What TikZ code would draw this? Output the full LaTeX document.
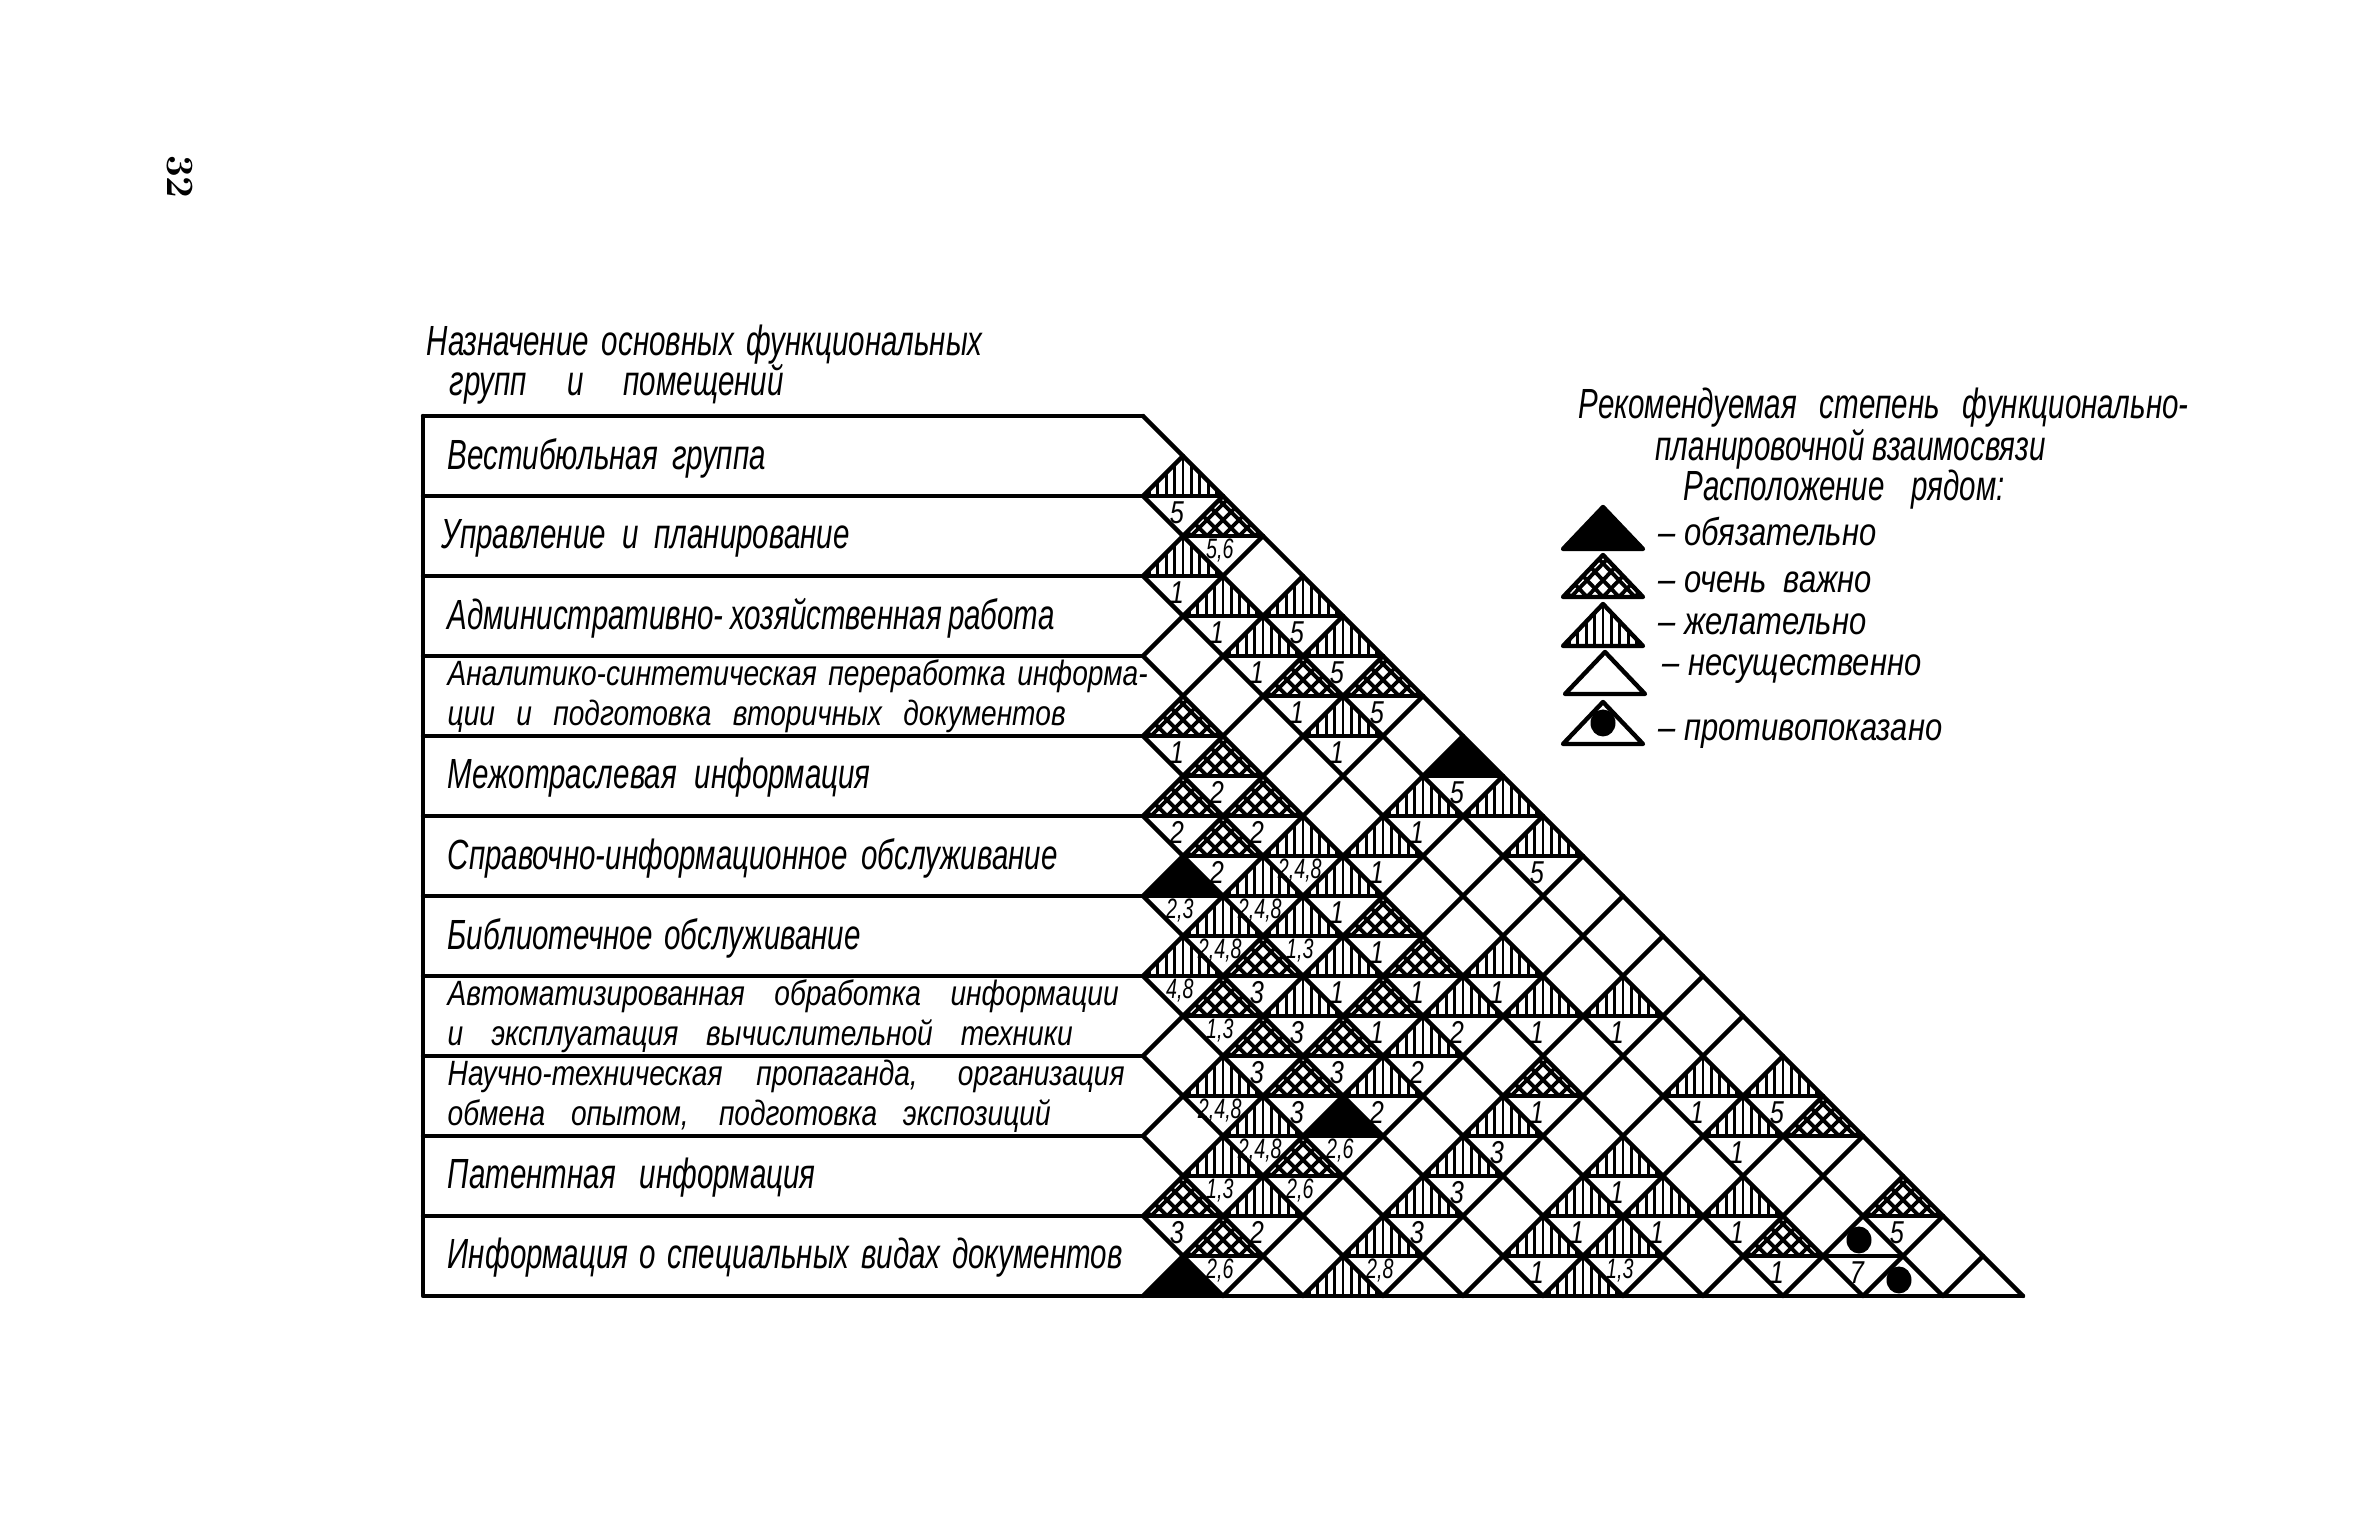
\documentclass[tikz,border=0pt]{standalone}
\usepackage{fontspec}
\newfontfamily\dfont{Liberation Sans}[FakeStretch=0.7]
\newfontfamily\dfontb{Liberation Sans}[FakeStretch=0.8]
\newcommand\trV{%
  \begin{scope}
    \clip (0,0)--(-1,1)--(1,1)--cycle;
    \foreach \i in {-4,...,4} \draw[hv] (\i*0.21,-0.1)--(\i*0.21,1.1);
  \end{scope}}
\newcommand\trX{%
  \begin{scope}
    \clip (0,0)--(-1,1)--(1,1)--cycle;
    \foreach \j in {-4,...,4} {\draw[hx] (\j*0.4-1.5,-0.5)--++(2,2); \draw[hx] (\j*0.4+1.5,-0.5)--++(-2,2);}
  \end{scope}}
\newcommand\trB{\fill (0,0)--(-1,1)--(1,1)--cycle;}
\newcommand\trD{\fill (-0.1,0.6) ellipse [x radius=0.125cm, y radius=0.135cm];}
\def\Vlist{1/1,1/3,2/4,4/4,3/5,5/5,5/7,7/9,9/9,4/10,6/10,10/10,3/11,5/11,2/12,4/12,1/13,5/13,9/13,4/14,8/14,10/14,12/14,7/15,2/16,6/16,14/16,16/16,3/17,9/17,15/17,2/18,8/18,12/18,3/19,7/19,11/19,13/19,15/19,6/20,10/20,12/20,5/21,11/21}
\def\Xlist{2/2,4/6,6/6,1/7,2/8,1/9,3/9,2/10,6/12,3/13,7/13,2/14,6/14,3/15,5/15,4/16,10/16,17/17,4/18,1/19,19/19,2/20,16/20}
\def\Blist{8/8,1/11,5/17,1/21}
\def\Dlist{18/20,19/21}
\begin{document}
\begin{tikzpicture}[
  gridl/.style={line width=1.25pt, line cap=round, line join=round},
  hv/.style={line width=0.8pt},
  hx/.style={line width=1.1pt},
  lab/.style={font=\dfont\itshape\fontsize{12}{12}\selectfont, anchor=west, inner sep=0pt},
  labt/.style={font=\dfontb\itshape\fontsize{10}{10}\selectfont, anchor=west, inner sep=0pt},
  labl/.style={font=\dfontb\itshape\fontsize{11}{11}\selectfont, anchor=west, inner sep=0pt},
  num/.style={font=\dfontb\itshape\fontsize{9}{9}\selectfont, inner sep=0pt},
  numm/.style={font=\dfont\itshape\fontsize{8}{8}\selectfont, inner sep=0pt},
]
\useasboundingbox (0,0) rectangle (23.63,15.35);
% page number
\node[rotate=-90, font=\bfseries\fontsize{11}{11}\selectfont] (pg) at (1.80,13.58) {32};
% title
\node[lab] (t1) at (4.26,11.90) {\makebox[5.56cm][s]{Назначение основных функциональных}};
\node[lab] (t2) at (4.49,11.51) {\makebox[3.34cm][s]{групп и помещений}};

\begin{scope}[shift={(11.43,11.19)}, x=0.4cm, y=-0.4cm]
  % hatched triangles
  \foreach \a/\k in \Vlist {\begin{scope}[shift={(\a,\k)}]\trV\end{scope}}
  \foreach \a/\k in \Xlist {\begin{scope}[shift={(\a,\k)}]\trX\end{scope}}
  \foreach \a/\k in \Blist {\begin{scope}[shift={(\a,\k)}]\trB\end{scope}}
  \foreach \a/\k in \Dlist {\begin{scope}[shift={(\a,\k)}]\trD\end{scope}}
  % diagonal grid
  \foreach \c in {0,2,...,20} \draw[gridl] (0,\c) -- ({22-\c},22);
  \foreach \c in {2,4,...,42} \draw[gridl] ({max(0,\c-22)},{min(\c,22)}) -- ({\c/2},{\c/2});
  % label boxes
  \foreach \c in {0,2,...,20} \draw[gridl] (-18,\c) -- (0,\c);
  \draw[gridl] (-18,0) -- (-18,22) -- (22,22);
  % mid lines of marked cells
  \foreach \a/\k in \Vlist {\draw[gridl] (\a-1,\k+1) -- (\a+1,\k+1);}
  \foreach \a/\k in \Xlist {\draw[gridl] (\a-1,\k+1) -- (\a+1,\k+1);}
  \foreach \a/\k in \Blist {\draw[gridl] (\a-1,\k+1) -- (\a+1,\k+1);}
  \foreach \a/\k in \Dlist {\draw[gridl] (\a-1,\k+1) -- (\a+1,\k+1);}
  % numbers
  \foreach \a/\k/\t in {1/2/5, 1/4/1, 2/5/1, 4/5/5, 3/6/1, 5/6/5, 4/7/1, 6/7/5, 1/8/1, 5/8/1, 2/9/2, 8/9/5, 1/10/2, 3/10/2, 7/10/1, 2/11/2, 6/11/1, 10/11/5, 5/12/1, 6/13/1, 3/14/3, 5/14/1, 7/14/1, 9/14/1, 4/15/3, 6/15/1, 8/15/2, 10/15/1, 12/15/1, 3/16/3, 5/16/3, 7/16/2, 4/17/3, 6/17/2, 10/17/1, 14/17/1, 16/17/5, 9/18/3, 15/18/1, 8/19/3, 12/19/1, 1/20/3, 3/20/2, 7/20/3, 11/20/1, 13/20/1, 15/20/1, 19/20/5, 10/21/1, 16/21/1, 18/21/7}
    {\node[num] (n-\a-\k) at (\a-0.15,\k+0.42) {\t};}
  \foreach \a/\k/\t in {2/3/{5,6}, 4/11/{2,4,8}, 1/12/{2,3}, 3/12/{2,4,8}, 2/13/{2,4,8}, 4/13/{1,3}, 1/14/{4,8}, 2/15/{1,3}, 2/17/{2,4,8}, 3/18/{2,4,8}, 5/18/{2,6}, 2/19/{1,3}, 4/19/{2,6}, 2/21/{2,6}, 6/21/{2,8}, 12/21/{1,3}}
    {\node[numm] (m-\a-\k) at (\a-0.08,\k+0.36) {\t};}
  % row labels
  \node[lab] (r1) at (-17.4,1.05) {\makebox[3.18cm][s]{Вестибюльная группа}};
  \node[lab] (r2) at (-17.55,3.05) {\makebox[4.08cm][s]{Управление и планирование}};
  \node[lab] (r3) at (-17.4,5.05) {\makebox[6.07cm][s]{Административно- хозяйственная работа}};
  \node[labt] (r4a) at (-17.4,6.5) {\makebox[7.0cm][s]{Аналитико-синтетическая переработка информа-}};
  \node[labt] (r4b) at (-17.4,7.5) {\makebox[6.18cm][s]{ции и подготовка вторичных документов}};
  \node[lab] (r5) at (-17.4,9.05) {\makebox[4.23cm][s]{Межотраслевая информация}};
  \node[lab] (r6) at (-17.4,11.05) {\makebox[6.10cm][s]{Справочно-информационное обслуживание}};
  \node[lab] (r7) at (-17.4,13.05) {\makebox[4.13cm][s]{Библиотечное обслуживание}};
  \node[labt] (r8a) at (-17.4,14.5) {\makebox[6.71cm][s]{Автоматизированная обработка информации}};
  \node[labt] (r8b) at (-17.4,15.5) {\makebox[6.25cm][s]{и эксплуатация вычислительной техники}};
  \node[labt] (r9a) at (-17.4,16.5) {\makebox[6.77cm][s]{Научно-техническая пропаганда, организация}};
  \node[labt] (r9b) at (-17.4,17.5) {\makebox[6.03cm][s]{обмена опытом, подготовка экспозиций}};
  \node[lab] (r10) at (-17.4,19.05) {\makebox[3.68cm][s]{Патентная информация}};
  \node[lab] (r11) at (-17.4,21.05) {\makebox[6.75cm][s]{Информация о специальных видах документов}};
\end{scope}

% legend
\node[lab] (l1) at (15.78,11.27) {\makebox[6.10cm][s]{Рекомендуемая степень функционально-}};
\node[lab] (l2) at (16.55,10.86) {\makebox[3.90cm][s]{планировочной взаимосвязи}};
\node[lab] (l3) at (16.83,10.45) {\makebox[3.21cm][s]{Расположение рядом:}};
\begin{scope}[shift={(16.03,10.28)}, x=0.4cm, y=-0.42cm]
  \trB \draw[gridl] (0,0)--(-1,1)--(1,1)--cycle;
\end{scope}
\begin{scope}[shift={(16.03,9.80)}, x=0.4cm, y=-0.42cm]
  \trX \draw[gridl] (0,0)--(-1,1)--(1,1)--cycle;
\end{scope}
\begin{scope}[shift={(16.03,9.31)}, x=0.4cm, y=-0.42cm]
  \trV \draw[gridl] (0,0)--(-1,1)--(1,1)--cycle;
\end{scope}
\begin{scope}[shift={(16.05,8.83)}, x=0.4cm, y=-0.42cm]
  \draw[gridl] (0,0)--(-1,1)--(1,1)--cycle;
\end{scope}
\begin{scope}[shift={(16.03,8.33)}, x=0.4cm, y=-0.42cm]
  \fill (0,0.5) ellipse [x radius=0.125cm, y radius=0.135cm];
  \draw[gridl] (0,0)--(-1,1)--(1,1)--cycle;
\end{scope}
\node[labl] (l4) at (16.58,10.03) {– обязательно};
\node[labl] (l5) at (16.58,9.53) {– очень\ \ важно};
\node[labl] (l6) at (16.58,9.11) {– желательно};
\node[labl] (l7) at (16.62,8.66) {– несущественно};
\node[labl] (l8) at (16.58,8.01) {– противопоказано};
\end{tikzpicture}
\end{document}
